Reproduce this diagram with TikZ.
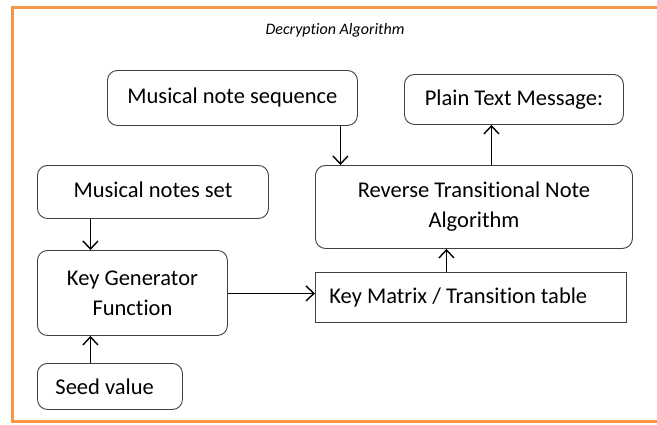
\documentclass[tikz,border=0pt]{standalone}
\usepackage{fontspec}
\setmainfont[Ligatures=NoCommon]{Carlito}
\usetikzlibrary{arrows.meta}
\definecolor{frameorange}{HTML}{F79646}
\definecolor{boxline}{HTML}{404040}
\tikzset{
  box/.style={draw=boxline, line width=0.9pt, rounded corners=10pt, align=center,
    font=\fontsize{22.5}{30}\selectfont, inner sep=0pt, anchor=north west},
  sqbox/.style={box, rounded corners=0pt},
  arr/.style={line width=1.5pt, -{Straight Barb[length=8pt,width=15pt,line width=1.4pt]}},
}
\begin{document}
\begin{tikzpicture}[x=1pt, y=-1pt]
  \useasboundingbox (0,0) rectangle (657,424);
  % outer frame
  \draw[frameorange, line width=3pt] (12.5,7.5) rectangle (680,421.5);
  \node (title) at (335,30) {\fontsize{16}{18}\selectfont\itshape Decryption Algorithm};

  \node[box, minimum width=250pt, minimum height=55pt] (seq) at (107,70) {\raisebox{3pt}{Musical note sequence}};
  \node[box, minimum width=219pt, minimum height=50pt] (plain) at (404,74) {Plain Text Message:};
  \node[box, minimum width=231pt, minimum height=53pt] (notes) at (37,165) {\raisebox{4pt}{Musical notes set}};
  \node[box, minimum width=317pt, minimum height=83pt] (rev) at (315,165) {Reverse Transitional Note\\Algorithm};
  \node[box, minimum width=190pt, minimum height=85pt] (keygen) at (37,250) {Key Generator\\Function};
  \node[sqbox, minimum width=311pt, minimum height=50pt] (keymat) at (315,272) {\makebox[283pt][l]{\raisebox{4pt}{Key Matrix / Transition table}}};
  \node[box, minimum width=145pt, minimum height=46pt] (seed) at (37,363) {\makebox[109pt][l]{Seed value}};

  \draw[arr] ([xshift=108pt]seq.south) -- ([xshift=108pt]seq.south |- rev.north);
  \draw[arr] ([xshift=17.5pt]rev.north) -- ([xshift=17.5pt]rev.north |- plain.south);
  \draw[arr] ([xshift=-62.5pt]notes.south) -- ([xshift=-62.5pt]notes.south |- keygen.north);
  \draw[arr] ([xshift=-19.5pt]seed.north) -- ([xshift=-19.5pt]seed.north |- keygen.south);
  \draw[arr] ([yshift=-0.5pt]keygen.east) -- ([yshift=-0.5pt]keygen.east -| keymat.west);
  \draw[arr] ([xshift=-24.5pt]keymat.north) -- ([xshift=-24.5pt]keymat.north |- rev.south);
\end{tikzpicture}
\end{document}
